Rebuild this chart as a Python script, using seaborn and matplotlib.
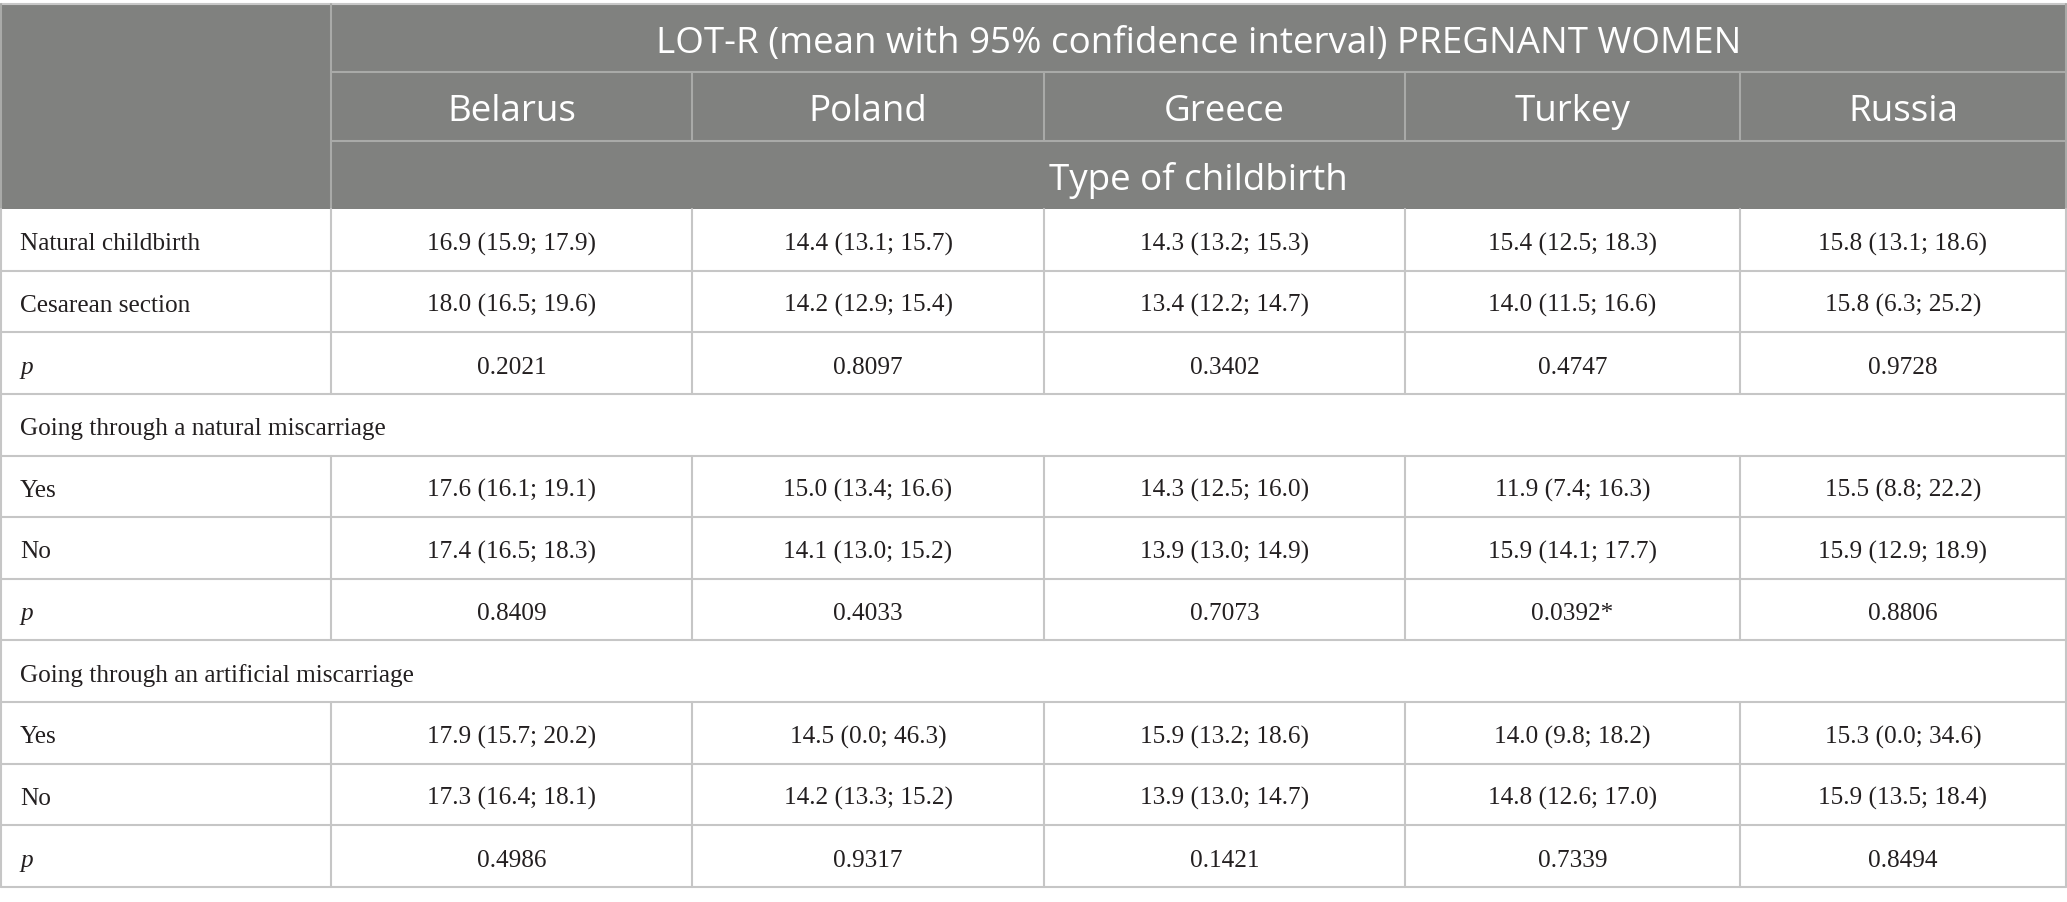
import matplotlib
matplotlib.use("Agg")
import matplotlib.pyplot as plt
import seaborn as sns
from matplotlib.patches import Rectangle

# ---------------- data ----------------
title = "LOT-R (mean with 95% confidence interval) PREGNANT WOMEN"
subtitle = "Type of childbirth"
countries = ["Belarus", "Poland", "Greece", "Turkey", "Russia"]

natural_childbirth = ["16.9 (15.9; 17.9)", "14.4 (13.1; 15.7)", "14.3 (13.2; 15.3)", "15.4 (12.5; 18.3)", "15.8 (13.1; 18.6)"]
cesarean_section = ["18.0 (16.5; 19.6)", "14.2 (12.9; 15.4)", "13.4 (12.2; 14.7)", "14.0 (11.5; 16.6)", "15.8 (6.3; 25.2)"]
p_childbirth = ["0.2021", "0.8097", "0.3402", "0.4747", "0.9728"]

natural_misc_yes = ["17.6 (16.1; 19.1)", "15.0 (13.4; 16.6)", "14.3 (12.5; 16.0)", "11.9 (7.4; 16.3)", "15.5 (8.8; 22.2)"]
natural_misc_no = ["17.4 (16.5; 18.3)", "14.1 (13.0; 15.2)", "13.9 (13.0; 14.9)", "15.9 (14.1; 17.7)", "15.9 (12.9; 18.9)"]
p_natural_misc = ["0.8409", "0.4033", "0.7073", "0.0392*", "0.8806"]

artificial_misc_yes = ["17.9 (15.7; 20.2)", "14.5 (0.0; 46.3)", "15.9 (13.2; 18.6)", "14.0 (9.8; 18.2)", "15.3 (0.0; 34.6)"]
artificial_misc_no = ["17.3 (16.4; 18.1)", "14.2 (13.3; 15.2)", "13.9 (13.0; 14.7)", "14.8 (12.6; 17.0)", "15.9 (13.5; 18.4)"]
p_artificial_misc = ["0.4986", "0.9317", "0.1421", "0.7339", "0.8494"]

rows = [
    ("Natural childbirth", natural_childbirth),
    ("Cesarean section", cesarean_section),
    ("p", p_childbirth),
    ("Going through a natural miscarriage", None),
    ("Yes", natural_misc_yes),
    ("No", natural_misc_no),
    ("p", p_natural_misc),
    ("Going through an artificial miscarriage", None),
    ("Yes", artificial_misc_yes),
    ("No", artificial_misc_no),
    ("p", p_artificial_misc),
]

# ---------------- layout / style ----------------
sns.set_theme(style="white")
W, H = 2067, 902
col_edges = [1, 331, 692, 1044, 1405, 1740, 2066]
head_edges = [4, 72, 141, 209]
body_top, body_bottom = 209, 887
row_h = (body_bottom - body_top) / len(rows)

HEAD_BG = "#80817f"
HEAD_LINE = "#a9aaa8"
BODY_LINE = "#c6c6c6"
TEXT = "#231f20"
LW = 1.5

fig = plt.figure(figsize=(W / 100, H / 100), dpi=100)
ax = fig.add_axes([0, 0, 1, 1])
ax.set_xlim(0, W)
ax.set_ylim(H, 0)
ax.axis("off")

sans = ["Open Sans", "DejaVu Sans"]
serif = ["Liberation Serif", "DejaVu Serif"]
HFS = 26.5
BFS = 18.2

# header background
ax.add_patch(Rectangle((col_edges[0], head_edges[0]), col_edges[-1] - col_edges[0],
                       head_edges[-1] - head_edges[0], facecolor=HEAD_BG, edgecolor="none", zorder=1))
# header lines
ax.plot([col_edges[0], col_edges[-1]], [head_edges[0], head_edges[0]], color="#c8c8c8", lw=LW, zorder=3)
for y in head_edges[1:3]:
    ax.plot([col_edges[1], col_edges[-1]], [y, y], color=HEAD_LINE, lw=LW, zorder=3)
ax.plot([col_edges[1], col_edges[1]], [head_edges[0], head_edges[-1]], color=HEAD_LINE, lw=LW, zorder=3)
for x in col_edges[2:-1]:
    ax.plot([x, x], [head_edges[1], head_edges[2]], color=HEAD_LINE, lw=LW, zorder=3)
ax.plot([col_edges[0], col_edges[0]], [head_edges[0], head_edges[-1]], color=HEAD_LINE, lw=LW, zorder=3)
ax.plot([col_edges[-1], col_edges[-1]], [head_edges[0], head_edges[-1]], color=HEAD_LINE, lw=LW, zorder=3)

# header texts (baseline placed ~49 px below each header row top)
cx_all = (col_edges[1] + col_edges[-1]) / 2
HB = 49
ax.text(cx_all, head_edges[0] + HB, title, ha="center", va="baseline",
        color="white", fontsize=HFS, family=sans, zorder=4)
for i, c in enumerate(countries):
    cx = (col_edges[i + 1] + col_edges[i + 2]) / 2
    ax.text(cx, head_edges[1] + HB, c, ha="center", va="baseline",
            color="white", fontsize=HFS, family=sans, zorder=4)
ax.text(cx_all, head_edges[2] + HB, subtitle, ha="center", va="baseline",
        color="white", fontsize=HFS, family=sans, zorder=4)

# body
for r, (label, vals) in enumerate(rows):
    y0 = body_top + r * row_h
    y1 = y0 + row_h
    yb = y0 + 0.67 * row_h
    ax.plot([col_edges[0], col_edges[-1]], [y1, y1], color=BODY_LINE, lw=LW, zorder=3)
    xs = [col_edges[0], col_edges[-1]] if vals is None else col_edges
    for x in xs:
        ax.plot([x, x], [y0, y1], color=BODY_LINE, lw=LW, zorder=3)
    style = "italic" if label == "p" else "normal"
    ax.text(col_edges[0] + 19, yb, label, ha="left", va="baseline", color=TEXT,
            fontsize=BFS, family=serif, style=style, zorder=4)
    if vals is not None:
        for i, v in enumerate(vals):
            cx = (col_edges[i + 1] + col_edges[i + 2]) / 2
            ax.text(cx, yb, v, ha="center", va="baseline", color=TEXT,
                    fontsize=BFS, family=serif, zorder=4)

fig.savefig("out.png", dpi=100, facecolor="white")
